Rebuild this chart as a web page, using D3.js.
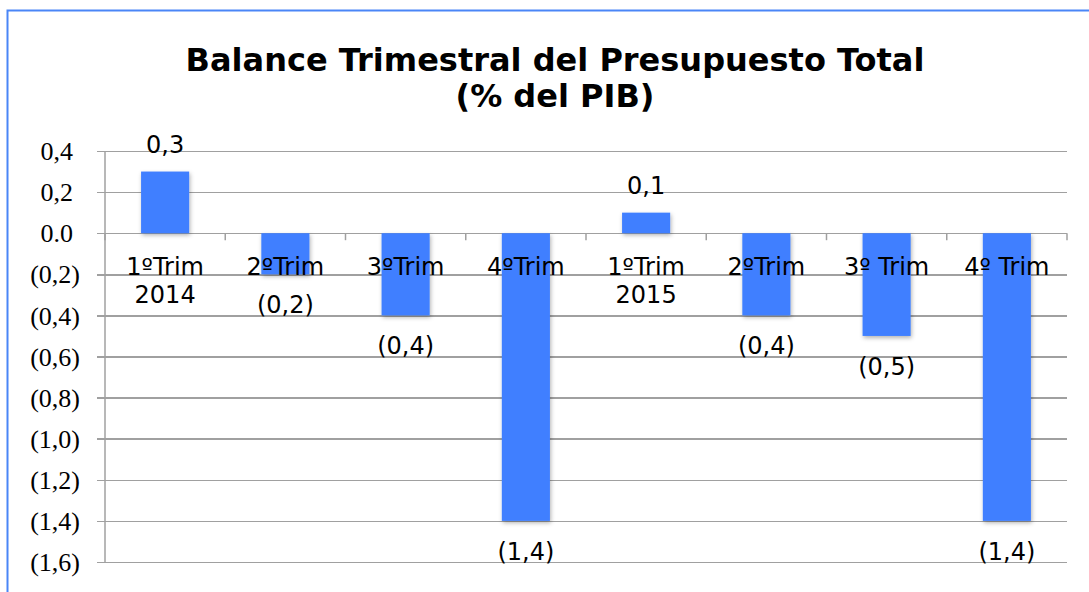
<!DOCTYPE html>
<meta charset="utf-8">
<style>
body { margin: 0; background: #fff; }
.grid line { stroke: #a0a0a0; stroke-width: 1.5; shape-rendering: crispEdges; }
.grid path { display: none; }
.yaxis text { font: 26px "Liberation Serif", serif; fill: #000; }
.lbl { font: 24px "DejaVu Sans", sans-serif; fill: #000; }
</style>
<div id="chart"></div>
<script src="https://d3js.org/d3.v7.min.js"></script>
<script>

// data
var categories = ["1ºTrim|2014", "2ºTrim", "3ºTrim", "4ºTrim", "1ºTrim|2015", "2ºTrim", "3º Trim", "4º Trim"];
var values = [0.3, -0.2, -0.4, -1.4, 0.1, -0.4, -0.5, -1.4];
var valueLabels = ["0,3", "(0,2)", "(0,4)", "(1,4)", "0,1", "(0,4)", "(0,5)", "(1,4)"];
var yTicks = [0.4, 0.2, 0.0, -0.2, -0.4, -0.6, -0.8, -1.0, -1.2, -1.4, -1.6];
var yTickLabels = ["0,4", "0,2", "0.0", "(0,2)", "(0,4)", "(0,6)", "(0,8)", "(1,0)", "(1,2)", "(1,4)", "(1,6)"];

var W = 1089, H = 592;
var margin = {top: 151, right: 22, bottom: 30, left: 105},
    width = W - margin.left - margin.right,
    height = H - margin.top - margin.bottom;

var root = d3.select("#chart").append("svg")
    .attr("width", W)
    .attr("height", H);

// outer frame
root.append("rect")
    .attr("x", 7.5).attr("y", 10.5)
    .attr("width", W + 20).attr("height", H + 20)
    .attr("fill", "none")
    .attr("stroke", "#4a86f7")
    .attr("stroke-width", 2);

// shadow filter
var defs = root.append("defs");
var f = defs.append("filter").attr("id", "shadow")
    .attr("x", "-20%").attr("y", "-20%").attr("width", "150%").attr("height", "150%");
f.append("feDropShadow").attr("dx", 1).attr("dy", 2).attr("stdDeviation", 2)
    .attr("flood-color", "#000").attr("flood-opacity", 0.3);

// title
var title = root.append("text")
    .attr("text-anchor", "middle")
    .style("font", "bold 32px 'DejaVu Sans', sans-serif");
title.append("tspan").attr("x", 555).attr("y", 71).text("Balance Trimestral del Presupuesto Total");
title.append("tspan").attr("x", 555).attr("y", 107).text("(% del PIB)");

var svg = root.append("g")
    .attr("transform", "translate(" + margin.left + "," + margin.top + ")");

var x = d3.scaleBand()
    .domain(d3.range(categories.length))
    .range([0, width])
    .paddingInner(0.6)
    .paddingOuter(0.3);

var y = d3.scaleLinear()
    .domain([-1.6, 0.4])
    .range([height, 0]);

// gridlines
svg.append("g")
    .attr("class", "grid")
    .attr("transform", "translate(" + (-8) + ",0)")
    .call(d3.axisLeft(y).tickValues(yTicks).tickSize(-(width + 8)).tickFormat(""));

// y axis line
svg.append("line")
    .attr("x1", 0).attr("x2", 0)
    .attr("y1", 0).attr("y2", height)
    .attr("stroke", "#a0a0a0").attr("stroke-width", 1.5);

// y tick labels (positives leave room for the bracket)
svg.append("g")
    .attr("class", "yaxis")
    .selectAll("text")
    .data(yTicks)
    .enter()
    .append("text")
      .attr("x", function (d) { return d >= 0 ? -32 : -25; })
      .attr("y", function (d) { return y(d); })
      .attr("dy", "0.35em")
      .attr("text-anchor", "end")
      .text(function (d, i) { return yTickLabels[i]; });

// category ticks on zero line
var step = width / categories.length;
svg.append("g")
    .selectAll("line")
    .data(d3.range(categories.length + 1))
    .enter()
    .append("line")
      .attr("x1", function (d) { return d * step; })
      .attr("x2", function (d) { return d * step; })
      .attr("y1", y(0)).attr("y2", y(0) + 7)
      .attr("stroke", "#a0a0a0").attr("stroke-width", 1.5);

// bars
svg.append("g")
    .selectAll("rect")
    .data(values)
    .enter()
    .append("rect")
      .attr("x", function (d, i) { return x(i); })
      .attr("y", function (d) { return y(Math.max(0, d)); })
      .attr("width", x.bandwidth())
      .attr("height", function (d) { return Math.abs(y(d) - y(0)); })
      .attr("fill", "#3f7fff")
      .attr("filter", "url(#shadow)");

// category labels
svg.append("g")
    .selectAll("text")
    .data(categories)
    .enter()
    .append("text")
      .attr("class", "lbl")
      .attr("text-anchor", "middle")
      .each(function (d, i) {
        var parts = d.split("|");
        var t = d3.select(this);
        parts.forEach(function (p, k) {
          t.append("tspan")
            .attr("x", x(i) + x.bandwidth() / 2)
            .attr("y", y(0) + 42 + k * 28)
            .text(p);
        });
      });

// value labels
svg.append("g")
    .selectAll("text")
    .data(values)
    .enter()
    .append("text")
      .attr("class", "lbl")
      .attr("text-anchor", "middle")
      .attr("x", function (d, i) { return x(i) + x.bandwidth() / 2; })
      .attr("y", function (d) { return d >= 0 ? y(d) - 19 : y(d) + 39; })
      .text(function (d, i) { return valueLabels[i]; });

</script>
